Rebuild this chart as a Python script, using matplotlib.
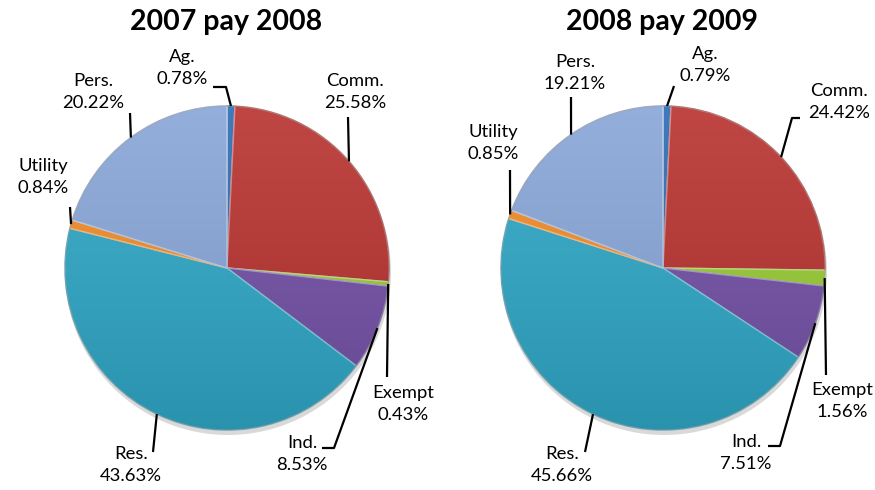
import matplotlib.pyplot as plt
import matplotlib.colors as mcolors
import numpy as np
from matplotlib.patches import Circle

W, H = 875, 490

categories = ["Ag.", "Comm.", "Exempt", "Ind.", "Res.", "Utility", "Pers."]
share_2008 = [0.78, 25.58, 0.43, 8.53, 43.63, 0.84, 20.22]
share_2009 = [0.79, 24.42, 1.56, 7.51, 45.66, 0.85, 19.21]
titles = ["2007 pay 2008", "2008 pay 2009"]

colors = ["#2B6CB5", "#B8322F", "#98CC34", "#7350A6", "#2FA7C6", "#F28C28", "#88A6D8"]

# layout in pixel units (y measured from the top)
centers = [(227, 268), (663, 268)]
radius = 162
title_pos = [(226, 22), (662, 22)]

# label block centre and leader way-points (after the edge point)
label_pos = [
    {"Ag.": (182, 68), "Comm.": (355, 92), "Exempt": (403, 404), "Ind.": (302, 454),
     "Res.": (131, 465), "Utility": (43, 177), "Pers.": (93, 92)},
    {"Ag.": (705, 65), "Comm.": (839, 102), "Exempt": (842, 401), "Ind.": (746, 453),
     "Res.": (562, 465), "Utility": (493, 143), "Pers.": (575, 73)},
]
leader_pts = [
    {"Ag.": [(226, 87), (213, 87)], "Comm.": [(348, 117)], "Exempt": [(387, 377)],
     "Ind.": [(334, 448), (322, 448)], "Res.": [(153, 452)], "Utility": [(70, 207)],
     "Pers.": [(130, 113)]},
    {"Ag.": [(674, 86)], "Comm.": [(792, 118), (800, 118)], "Exempt": [(826, 375)],
     "Ind.": [(780, 446), (768, 446)], "Res.": [(585, 452)], "Utility": [(510, 170)],
     "Pers.": [(571, 97)]},
]


def py(y):
    return H - y


def lighten(c, f):
    r, g, b = mcolors.to_rgb(c)
    return (r + (1 - r) * f, g + (1 - g) * f, b + (1 - b) * f)


fig = plt.figure(figsize=(8.75, 4.9), dpi=100)
ax = fig.add_axes([0, 0, 1, 1])
ax.set_xlim(0, W)
ax.set_ylim(0, H)
ax.set_aspect("equal")
ax.axis("off")

grad = np.linspace(1, 0, 256).reshape(-1, 1)
shade = mcolors.LinearSegmentedColormap.from_list("sh", [(0, 0, 0, 0.12), (1, 1, 1, 0.10)])

for k, vals in enumerate([share_2008, share_2009]):
    cx, cy = centers[k]
    # soft shadow
    sh = Circle((cx + 1, py(cy) - 4), radius + 1, color="#000000", alpha=0.15, lw=0)
    ax.add_patch(sh)
    wedges, _ = ax.pie(vals, colors=colors, startangle=90, counterclock=False,
                       center=(cx, py(cy)), radius=radius, frame=True,
                       wedgeprops=dict(linewidth=1.0))
    for w, c in zip(wedges, colors):
        w.set_edgecolor(lighten(c, 0.4))
    # shading overlay for a bit of depth
    clip = Circle((cx, py(cy)), radius, transform=ax.transData)
    im = ax.imshow(grad, extent=(cx - radius, cx + radius, py(cy) - radius, py(cy) + radius),
                   cmap=shade, aspect="auto", zorder=3)
    im.set_clip_path(clip)
    rim = Circle((cx, py(cy)), radius, fill=False, ec="#00000028", lw=1.2, zorder=3)
    ax.add_patch(rim)

    ax.text(title_pos[k][0], py(title_pos[k][1]), titles[k], ha="center", va="center",
            fontsize=20.5, fontweight="bold", family="Lato")

    total = sum(vals)
    cum = 0
    for name, v in zip(categories, vals):
        mid = (cum + v / 2) / total * 2 * np.pi
        cum += v
        ex = cx + radius * np.sin(mid)
        ey = cy - radius * np.cos(mid)
        pts = [(ex, ey)] + leader_pts[k][name]
        ax.plot([p[0] for p in pts], [py(p[1]) for p in pts], color="black", lw=1.6,
                solid_capstyle="butt", zorder=4)
        lx, ly = label_pos[k][name]
        ax.text(lx, py(ly), "%s\n%.2f%%" % (name, v), ha="center", va="center",
                fontsize=13.3, family="Lato", linespacing=1.4, zorder=5)

ax.set_xlim(0, W)
ax.set_ylim(0, H)
fig.savefig("out.png", dpi=100)
